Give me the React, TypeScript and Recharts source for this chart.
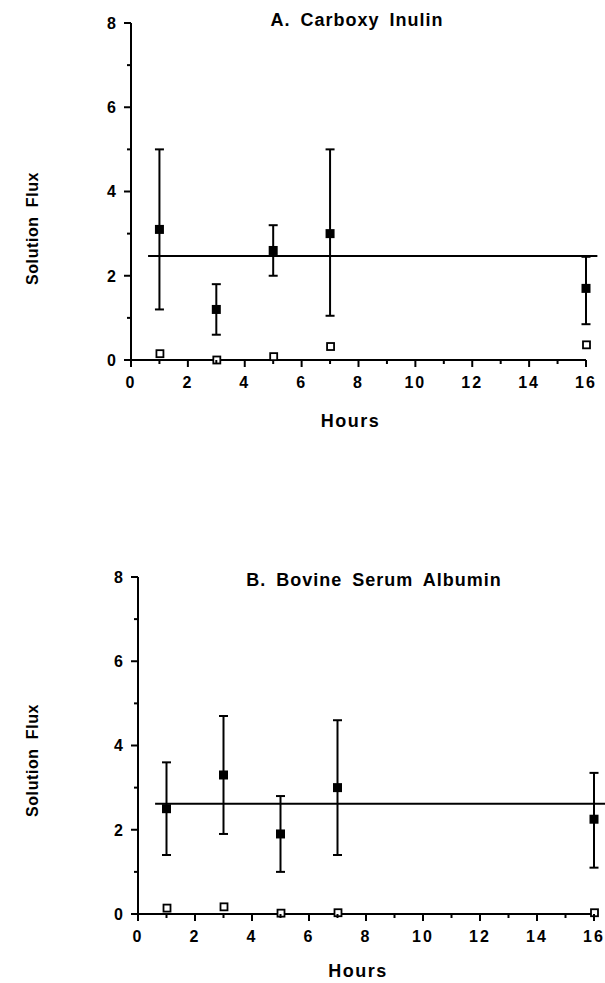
import { ErrorBar, Label, ReferenceLine, Scatter, ScatterChart, XAxis, YAxis } from "recharts";

const HORAS = [1, 3, 5, 7, 16];
const TICKS_X = [0, 1, 2, 3, 4, 5, 6, 7, 8, 9, 10, 11, 12, 13, 14, 15, 16];
const TICKS_Y = [0, 1, 2, 3, 4, 5, 6, 7, 8];

// A. Carboxy Inulin
const inulinaMedia = [3.1, 1.2, 2.6, 3.0, 1.7];
const inulinaMin = [1.2, 0.6, 2.0, 1.05, 0.85];
const inulinaMax = [5.0, 1.8, 3.2, 5.0, 2.45];
const inulinaAberto = [0.15, 0.0, 0.08, 0.32, 0.36];

// B. Bovine Serum Albumin
const albuminaMedia = [2.5, 3.3, 1.9, 3.0, 2.25];
const albuminaMin = [1.4, 1.9, 1.0, 1.4, 1.1];
const albuminaMax = [3.6, 4.7, 2.8, 4.6, 3.35];
const albuminaAberto = [0.14, 0.17, 0.02, 0.03, 0.03];

const LINHA_MEDIA = [2.47, 2.62];
const LINHA_INICIO = 0.6;
const LINHA_FIM = 16.4;

const FONTE = "'Liberation Sans', Arial, Helvetica, sans-serif";

function montarPontos(media: number[], min: number[], max: number[]) {
  return HORAS.map((h, i) => ({ hora: h, fluxo: media[i], erro: [media[i] - min[i], max[i] - media[i]] }));
}

function montarAbertos(valores: number[]) {
  return HORAS.map((h, i) => ({ hora: h, fluxo: valores[i] }));
}

function TickY({ x, y, payload }: any) {
  const major = payload.value % 2 === 0;
  return (
    <g>
      <line x1={x - (major ? 7 : 4)} x2={x} y1={y} y2={y} stroke="#000" strokeWidth={2} />
      {major && (
        <text x={x - 15} y={y} dy="0.36em" textAnchor="end" fontFamily={FONTE} fontWeight="bold" fontSize={16} fill="#000">
          {payload.value}
        </text>
      )}
    </g>
  );
}

function TickX({ x, y, payload }: any) {
  const major = payload.value % 2 === 0;
  return (
    <g>
      <line x1={x} x2={x} y1={y} y2={y + (major ? 7 : 4)} stroke="#000" strokeWidth={2} />
      {major && (
        <text x={x} y={y + 22} dy="0.36em" textAnchor="middle" fontFamily={FONTE} fontWeight="bold" fontSize={16} letterSpacing={2} fill="#000">
          {payload.value}
        </text>
      )}
    </g>
  );
}

const QuadradoCheio = (props: any) => <rect x={props.cx - 4.5} y={props.cy - 4.5} width={9} height={9} fill="#000" />;
const QuadradoAberto = (props: any) => (
  <rect x={props.cx - 3} y={props.cy - 3.5} width={7} height={7} fill="#fff" stroke="#000" strokeWidth={1.8} />
);

type PainelProps = {
  titulo: string;
  tituloX: number;
  tituloY: number;
  topo: number;
  altura: number;
  margem: { top: number; right: number; left: number; bottom: number };
  larguraY: number;
  alturaX: number;
  pontos: { hora: number; fluxo: number; erro: number[] }[];
  abertos: { hora: number; fluxo: number }[];
  media: number;
  rotuloYDesloc: number;
  rotuloXDesloc: number;
};

function Painel(p: PainelProps) {
  return (
    <div style={{ position: "absolute", left: 0, top: p.topo, width: 605, height: p.altura }}>
      <ScatterChart width={605} height={p.altura} margin={p.margem} style={{ overflow: "visible" }}>
        <XAxis
          type="number"
          dataKey="hora"
          domain={[0, 16]}
          ticks={TICKS_X}
          interval={0}
          height={p.alturaX}
          tickLine={false}
          tickSize={0}
          tickMargin={0}
          tick={<TickX />}
          axisLine={{ stroke: "#000", strokeWidth: 2 }}
        >
          <Label
            content={({ viewBox }: any) => (
              <text
                x={viewBox.x + viewBox.width / 2 - 8}
                y={viewBox.y + p.rotuloXDesloc}
                dy="0.36em"
                textAnchor="middle"
                fontFamily={FONTE}
                fontWeight="bold"
                fontSize={18}
                letterSpacing={1.5}
                fill="#000"
              >
                Hours
              </text>
            )}
          />
        </XAxis>
        <YAxis
          type="number"
          dataKey="fluxo"
          domain={[0, 8]}
          ticks={TICKS_Y}
          interval={0}
          width={p.larguraY}
          tickLine={false}
          tickSize={0}
          tickMargin={0}
          tick={<TickY />}
          axisLine={{ stroke: "#000", strokeWidth: 2 }}
        >
          <Label
            content={({ viewBox }: any) => {
              const cx = 32;
              const cy = viewBox.y + viewBox.height / 2 + p.rotuloYDesloc;
              return (
                <text
                  x={cx}
                  y={cy}
                  dy="0.36em"
                  transform={`rotate(-90 ${cx} ${cy})`}
                  textAnchor="middle"
                  fontFamily={FONTE}
                  fontWeight="bold"
                  fontSize={16}
                  letterSpacing={0.6}
                  wordSpacing={4}
                  fill="#000"
                >
                  Solution Flux
                </text>
              );
            }}
          />
        </YAxis>
        <ReferenceLine
          segment={[
            { x: LINHA_INICIO, y: p.media },
            { x: LINHA_FIM, y: p.media },
          ]}
          stroke="#000"
          strokeWidth={2}
          ifOverflow="visible"
        />
        <Scatter data={p.pontos} shape={QuadradoCheio} isAnimationActive={false}>
          <ErrorBar dataKey="erro" direction="y" width={4.5} strokeWidth={2} stroke="#000" />
        </Scatter>
        <Scatter data={p.abertos} shape={QuadradoAberto} isAnimationActive={false} />
      </ScatterChart>
      <div
        style={{
          position: "absolute",
          left: p.tituloX - 200,
          top: p.tituloY - p.topo - 11,
          width: 400,
          textAlign: "center",
          fontFamily: FONTE,
          fontWeight: "bold",
          fontSize: 18,
          letterSpacing: 1,
          wordSpacing: 4,
          lineHeight: "22px",
          whiteSpace: "nowrap",
        }}
      >
        {p.titulo}
      </div>
    </div>
  );
}

export default function App() {
  return (
    <div style={{ position: "absolute", left: 0, top: 0, width: 605, height: 983, background: "#fff" }}>
      <Painel
        titulo="A. Carboxy Inulin"
        tituloX={357}
        tituloY={20}
        topo={0}
        altura={450}
        margem={{ top: 23, right: 19, left: 0, bottom: 0 }}
        larguraY={131}
        alturaX={90}
        pontos={montarPontos(inulinaMedia, inulinaMin, inulinaMax)}
        abertos={montarAbertos(inulinaAberto)}
        media={LINHA_MEDIA[0]}
        rotuloYDesloc={37}
        rotuloXDesloc={61}
      />
      <Painel
        titulo="B. Bovine Serum Albumin"
        tituloX={374}
        tituloY={580}
        topo={460}
        altura={523}
        margem={{ top: 117, right: 11, left: 0, bottom: 0 }}
        larguraY={138}
        alturaX={69}
        pontos={montarPontos(albuminaMedia, albuminaMin, albuminaMax)}
        abertos={montarAbertos(albuminaAberto)}
        media={LINHA_MEDIA[1]}
        rotuloYDesloc={15}
        rotuloXDesloc={57}
      />
    </div>
  );
}
